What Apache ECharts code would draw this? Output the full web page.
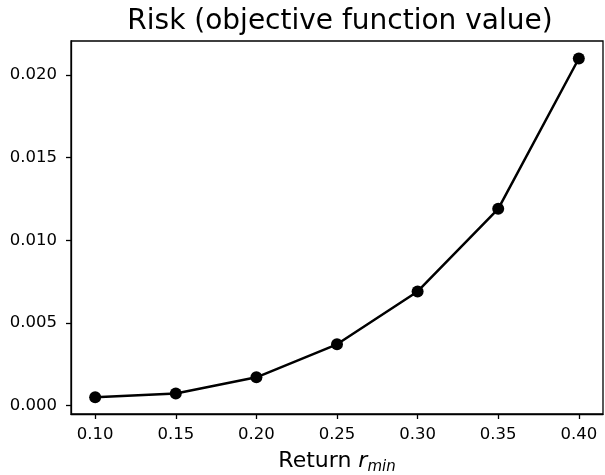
<!DOCTYPE html>
<html>
<head>
<meta charset="utf-8">
<script src="https://cdn.jsdelivr.net/npm/echarts@6/dist/echarts.min.js"></script>
<style>
  html, body { margin: 0; padding: 0; background: #fff; }
  #main { width: 605px; height: 475px; }
</style>
</head>
<body>
<div id="main"></div>
<script>
// return levels r_min and the resulting risk values
var returns = [0.10, 0.15, 0.20, 0.25, 0.30, 0.35, 0.40]
var risk = [0.0005, 0.00072, 0.0017, 0.0037, 0.0069, 0.0119, 0.0210]
var xTicks = [0.10, 0.15, 0.20, 0.25, 0.30, 0.35, 0.40]
var yTicks = [0, 0.005, 0.010, 0.015, 0.020]

var font = 'DejaVu Sans'
var xMin = 0.085, xMax = 0.415
var yMin = -0.00052, yMax = 0.02206
var chart = echarts.init(document.getElementById('main'))
var option = {
  animation: false,
  title: {
    text: 'Risk (objective function value)',
    left: 335,
    textAlign: 'center',
    top: 3,
    textStyle: { fontFamily: font, fontSize: 28, fontWeight: 'normal', color: '#000' }
  },
  grid: { left: 71, right: 2, top: 41, bottom: 61, outerBoundsMode: 'none' },
  xAxis: {
    type: 'value',
    min: xMin,
    max: xMax,
    name: '{n|Return }{r|r}{s|min}',
    nameLocation: 'middle',
    nameGap: 34,
    nameTextStyle: {
      rich: {
        n: { fontFamily: font, fontSize: 22, color: '#000' },
        r: { fontFamily: font, fontSize: 22, fontStyle: 'italic', color: '#000' },
        s: { fontFamily: font, fontSize: 15, fontStyle: 'italic', color: '#000', padding: [12, 0, 0, 0] }
      }
    },
    axisLine: { onZero: false, lineStyle: { color: '#000', width: 1.3 } },
    axisTick: { show: true, length: 5, customValues: xTicks, lineStyle: { color: '#000', width: 1.3 } },
    axisLabel: {
      customValues: xTicks,
      margin: 12,
      fontFamily: font, fontSize: 16.5, color: '#000',
      formatter: function (v) { return v.toFixed(2) }
    },
    splitLine: { show: false }
  },
  yAxis: {
    type: 'value',
    min: yMin,
    max: yMax,
    axisLine: { show: true, onZero: false, lineStyle: { color: '#000', width: 1.3 } },
    axisTick: { show: true, length: 5, customValues: yTicks, lineStyle: { color: '#000', width: 1.3 } },
    axisLabel: {
      customValues: yTicks,
      margin: 14,
      fontFamily: font, fontSize: 16.5, color: '#000',
      formatter: function (v) { return v.toFixed(3) }
    },
    splitLine: { show: false }
  },
  series: [{
    type: 'line',
    data: returns.map(function (r, i) { return [r, risk[i]] }),
    symbol: 'circle',
    symbolSize: 12,
    itemStyle: { color: '#000' },
    lineStyle: { color: '#000', width: 2.5 }
  }]
}
chart.setOption(option)
// top and right frame lines like the matplotlib spines
var p0 = chart.convertToPixel({ gridIndex: 0 }, [xMin, yMax])
var p1 = chart.convertToPixel({ gridIndex: 0 }, [xMax, yMin])
chart.setOption({
  graphic: [{
    type: 'rect',
    shape: { x: p0[0], y: p0[1], width: p1[0] - p0[0], height: p1[1] - p0[1] },
    style: { fill: 'none', stroke: '#000', lineWidth: 1.3 },
    silent: true
  }]
})
</script>
</body>
</html>
